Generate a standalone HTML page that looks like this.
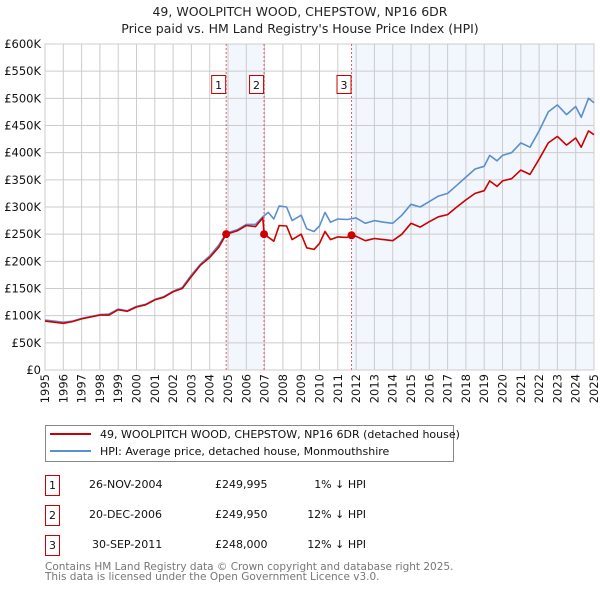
<!DOCTYPE html>
<html><head><meta charset="utf-8"><style>
body{margin:0;background:#fff;font-family:"DejaVu Sans","Liberation Sans",sans-serif;}
svg{display:block}
</style></head><body>
<svg id="c" width="600" height="590" viewBox="0 0 600 590" xmlns="http://www.w3.org/2000/svg" font-family="DejaVu Sans, Liberation Sans, sans-serif">
<text x="300" y="16" text-anchor="middle" font-size="12.5" fill="#222">49, WOOLPITCH WOOD, CHEPSTOW, NP16 6DR</text>
<text x="300" y="33" text-anchor="middle" font-size="12.5" fill="#222">Price paid vs. HM Land Registry's House Price Index (HPI)</text>
<g id="plot"></g>
<g>
<rect x="45.5" y="425.5" width="408" height="36" fill="#fff" stroke="#888"/>
<line x1="50" y1="434" x2="91" y2="434" stroke="#cc0000" stroke-width="2"/>
<text x="100" y="438" font-size="11" fill="#111">49, WOOLPITCH WOOD, CHEPSTOW, NP16 6DR (detached house)</text>
<line x1="50" y1="451" x2="91" y2="451" stroke="#5b8fd0" stroke-width="2"/>
<text x="100" y="455" font-size="11" fill="#111">HPI: Average price, detached house, Monmouthshire</text>
</g>
<g font-size="11" fill="#111">
<rect x="45.5" y="475.5" width="14" height="20" fill="none" stroke="#cc0000"/><text x="52.5" y="489" text-anchor="middle">1</text>
<text x="89" y="488">26-NOV-2004</text><text x="215" y="488">£249,995</text><text x="366" y="488" text-anchor="end">1% ↓ HPI</text>
<rect x="45.5" y="505.5" width="14" height="20" fill="none" stroke="#cc0000"/><text x="52.5" y="519" text-anchor="middle">2</text>
<text x="89" y="518">20-DEC-2006</text><text x="215" y="518">£249,950</text><text x="366" y="518" text-anchor="end">12% ↓ HPI</text>
<rect x="45.5" y="535.5" width="14" height="20" fill="none" stroke="#cc0000"/><text x="52.5" y="549" text-anchor="middle">3</text>
<text x="92" y="548">30-SEP-2011</text><text x="215" y="548">£248,000</text><text x="366" y="548" text-anchor="end">12% ↓ HPI</text>
</g>
<text x="45" y="570" font-size="10.5" fill="#777">Contains HM Land Registry data © Crown copyright and database right 2025.</text>
<text x="45" y="580" font-size="10.5" fill="#777">This data is licensed under the Open Government Licence v3.0.</text>
</svg>
<script>
const hpiYears=[1995,1996,1996.5,1997,1998,1998.5,1999,1999.5,2000,2000.5,2001,2001.5,2002,2002.5,2003,2003.5,2004,2004.5,2004.9,2005.5,2006,2006.5,2006.9,2007.2,2007.5,2007.8,2008.2,2008.5,2009,2009.3,2009.7,2010,2010.3,2010.6,2011,2011.5,2012,2012.5,2013,2013.5,2014,2014.5,2015,2015.5,2016,2016.5,2017,2017.5,2018,2018.5,2019,2019.3,2019.7,2020,2020.5,2021,2021.5,2022,2022.5,2023,2023.5,2024,2024.3,2024.7,2025];
const hpiValues=[92,88,90,95,102,103,112,109,117,121,130,135,145,152,175,195,210,230,252,258,268,268,282,290,278,302,300,275,285,260,255,265,290,272,278,277,280,270,275,272,270,285,305,300,310,320,325,340,355,370,375,395,385,395,400,418,410,440,475,488,470,485,465,500,492];
const priceYears=[1995,1996,1996.5,1997,1998,1998.5,1999,1999.5,2000,2000.5,2001,2001.5,2002,2002.5,2003,2003.5,2004,2004.5,2004.9,2005.5,2006,2006.5,2006.9,2006.97,2007.5,2007.8,2008.2,2008.5,2009,2009.3,2009.7,2010,2010.3,2010.6,2011,2011.5,2011.75,2012,2012.5,2013,2013.5,2014,2014.5,2015,2015.5,2016,2016.5,2017,2017.5,2018,2018.5,2019,2019.3,2019.7,2020,2020.5,2021,2021.5,2022,2022.5,2023,2023.5,2024,2024.3,2024.7,2025];
const priceValues=[90,86,89,94,101,101,111,108,116,120,129,134,144,150,172,193,207,226,250,256,266,264,280,250,237,266,265,240,250,225,222,233,255,240,245,244,248,246,238,242,240,238,250,270,263,273,282,286,300,313,325,330,348,338,348,352,368,360,388,418,430,414,427,410,440,433];
const saleLabels=["1","2","3"];
const saleYears=[2004.9,2006.97,2011.75];
const saleValues=[249.995,249.95,248];
const yTicks=[0,50,100,150,200,250,300,350,400,450,500,550,600];
const yTickLabels=["£0","£50K","£100K","£150K","£200K","£250K","£300K","£350K","£400K","£450K","£500K","£550K","£600K"];
const xTicks=[1995,1996,1997,1998,1999,2000,2001,2002,2003,2004,2005,2006,2007,2008,2009,2010,2011,2012,2013,2014,2015,2016,2017,2018,2019,2020,2021,2022,2023,2024,2025];

const X0=45,X1=594,Y0=370,Y1=44;
const xs=y=>X0+(y-1995)/30*(X1-X0);
const ys=v=>Y0-v/600*(Y0-Y1);
const NS="http://www.w3.org/2000/svg";
const g=document.getElementById('plot');
function mk(t,a,p){const e=document.createElementNS(NS,t);for(const k in a)e.setAttribute(k,a[k]);(p||g).appendChild(e);return e;}

// shaded periods
let s1=mk('rect',{x:xs(saleYears[0]),y:Y1,width:xs(saleYears[1])-xs(saleYears[0]),height:Y0-Y1,fill:'#eef3fc',opacity:0.75});


let s2=mk('rect',{x:xs(saleYears[2]),y:Y1,width:X1-xs(saleYears[2]),height:Y0-Y1,fill:'#eef3fc',opacity:0.75});



yTicks.forEach((v,i)=>{
 let l=mk('line',{x1:X0,x2:X1,y1:ys(v),y2:ys(v),stroke:'#cccccc','stroke-width':1});
 
 
 let t=mk('text',{x:X0-4,y:ys(v)+4,'text-anchor':'end','font-size':11.5,fill:'#111'});
 
 
 t.textContent=yTickLabels[i];
});
xTicks.forEach(yr=>{
 let l=mk('line',{x1:xs(yr),x2:xs(yr),y1:Y1,y2:Y0,stroke:'#cccccc','stroke-width':1});
 
 
 let t=mk('text',{x:0,y:0,'text-anchor':'end','font-size':11.5,fill:'#111',transform:`translate(${xs(yr)+4},${Y0+4}) rotate(-90)`});
 
 
 t.textContent=yr;
});
let fr=mk('rect',{x:X0,y:Y1,width:X1-X0,height:Y0-Y1,fill:'none',stroke:'#cccccc'});



saleYears.forEach((yr,i)=>{
 let l=mk('line',{x1:xs(yr),x2:xs(yr),y1:Y1,y2:Y0,stroke:'#e06060','stroke-width':1,'stroke-dasharray':'2,2'});
 
 
 let r=mk('rect',{x:xs(yr)-14.5,y:75.5,width:14,height:18,fill:'#fff',stroke:'#cc0000'});
 
 
 let t=mk('text',{x:xs(yr)-7.5,y:89,'text-anchor':'middle','font-size':11,fill:'#111'});
 
 
 t.textContent=saleLabels[i];
});

function path(xa,va,col,name){
 let d=xa.map((x,i)=>(i?'L':'M')+xs(x).toFixed(1)+','+ys(va[i]).toFixed(1)).join('');
 let p=mk('path',{d:d,fill:'none',stroke:col,'stroke-width':1.6,'stroke-linejoin':'round'});
 
 
}
path(hpiYears,hpiValues,'#5b8fd0','hpi-line');
path(priceYears,priceValues,'#cc0000','price-paid-line');
saleYears.forEach((yr,i)=>{
 let c=mk('circle',{cx:xs(yr),cy:ys(saleValues[i]),r:4,fill:'#cc0000'});
 
 
});
</script>
</body></html>
